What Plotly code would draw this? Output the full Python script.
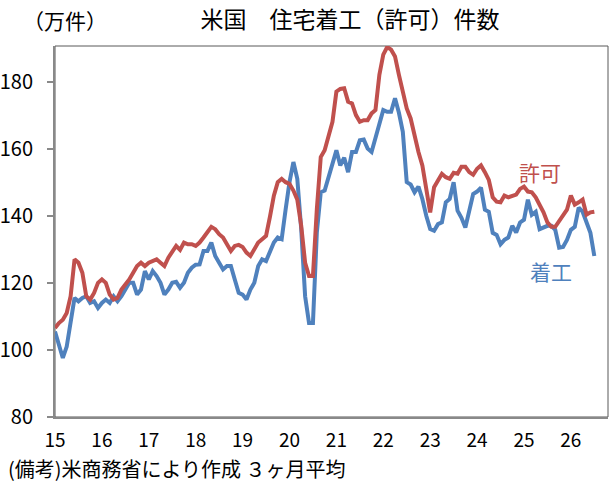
import plotly.graph_objects as go

# 3ヶ月平均（万件）, 2015年1月から月次
permits = [
    106.5, 108, 109, 111, 116, 127, 126, 123, 116, 115, 117, 120,
    121, 120, 116.5, 115, 115.5, 118, 119.5, 121, 123, 125, 126, 125,
    126, 126.5, 127, 126, 125, 127.5, 129.5, 131, 129.8, 132, 131.5, 131.5,
    131, 132, 133.5, 135, 136.7, 136, 134.5, 133.5, 131.5, 129.5, 131, 131.3,
    130.7, 129, 128, 130, 132, 133, 134, 139.7, 146, 150, 151, 150,
    149.5, 147.5, 144.8, 137, 126, 122, 122, 142, 157.5, 159.5, 164, 168,
    177, 177.8, 178, 174, 173.5, 170, 168, 168.5, 168.5, 170.5, 171.5, 182,
    188, 190.3, 189.5, 187.5, 182, 177, 172, 169, 163.5, 159, 155, 147,
    141, 148.5, 150.5, 152.5, 151.5, 151, 152.8, 152.5, 154.6, 154.6, 153, 152.2,
    154, 155, 153, 150.7, 145.5, 144.2, 144, 146, 145.5, 146, 146.3, 148,
    148.7, 147.2, 147, 145.5, 143.5, 141, 138, 136.7, 136.7, 138.5, 140.5, 141.8,
    146, 143.3, 144, 144.8, 140.3, 141, 141.2,
]

starts = [
    105.5, 101, 97.6, 101, 108, 115.5, 114.5, 115.5, 116, 114, 114.5, 112.5,
    114, 115, 114, 116, 114.5, 116, 118, 120, 120, 116.5, 118, 123.5,
    121, 123.5, 122, 120, 116.5, 118, 120, 120.3, 118.5, 120, 123, 124.5,
    125.4, 125.5, 129.5, 129.5, 132, 128, 126, 124, 125, 125, 121, 117,
    116.5, 115, 118, 120, 125, 127, 126.5, 129, 132, 133.5, 133, 141.8,
    150, 156, 151, 136, 116, 108, 108, 135, 147, 147.5, 151.5, 156.5,
    159.5, 155, 157.3, 153, 159, 159, 162.5, 162.7, 160, 159, 163.5, 168,
    171.5, 171, 171, 175, 170.7, 165, 150, 149.3, 147, 148.7, 145, 140,
    136, 135.5, 137.5, 138, 144, 145, 150, 141.5, 139.4, 136.5, 141, 146.5,
    147.2, 148.4, 141.8, 141.2, 134.9, 134.3, 131.5, 132.8, 133.5, 137, 135, 138,
    138.8, 144.8, 140.3, 141.2, 136, 136.5, 137, 137, 135.8, 130.5, 130.7, 132.8,
    135.8, 136.7, 142.4, 141.2, 137.9, 134.9, 128,
]

year_labels = ["15", "16", "17", "18", "19", "20", "21", "22", "23", "24", "25", "26"]
y_ticks = [80, 100, 120, 140, 160, 180]

months = list(range(len(permits)))
year_ticks = [12 * i for i in range(len(year_labels))]

RED = "#C0504D"
BLUE = "#4F81BD"
FONT = "Noto Sans CJK JP"

fig = go.Figure()

fig.add_trace(go.Scatter(
    x=months, y=starts, mode="lines", name="着工",
    line=dict(color=BLUE, width=4)
))
fig.add_trace(go.Scatter(
    x=months, y=permits, mode="lines", name="許可",
    line=dict(color=RED, width=4)
))

# 系列名（グラフ内の文字）
fig.add_annotation(x=124, y=153, text="許可", showarrow=False,
                   font=dict(family=FONT, size=21, color=RED))
fig.add_annotation(x=127, y=123.5, text="着工", showarrow=False,
                   font=dict(family=FONT, size=21, color=BLUE))

fig.add_annotation(xref="paper", yref="paper", x=-0.062, y=1.0, yshift=26,
                   text="（万件）", showarrow=False, yanchor="middle",
                   font=dict(family=FONT, size=21, color="black"))
fig.add_annotation(xref="paper", yref="paper", x=-0.088, y=0, yshift=-51,
                   xanchor="left", yanchor="middle",
                   text="(備考)米商務省により作成 ３ヶ月平均", showarrow=False,
                   font=dict(family=FONT, size=20, color="black"))

# プロット枠
fig.add_shape(type="rect", xref="paper", yref="paper", x0=0, y0=0, x1=1, y1=1,
              line=dict(color="#595959", width=1), layer="below")

fig.update_layout(
    title=dict(text="米国　住宅着工（許可）件数", x=0.569, xanchor="center",
               y=0.958, yanchor="middle",
               font=dict(family=FONT, size=23, color="black")),
    width=615, height=482,
    margin=dict(l=55, r=7, t=46, b=65),
    paper_bgcolor="white", plot_bgcolor="white",
    showlegend=False,
    font=dict(family=FONT, color="black"),
)

fig.update_xaxes(
    range=[0, 141.5], tickvals=year_ticks, ticktext=year_labels,
    showgrid=False, zeroline=False, automargin=False,
    showline=True, linecolor="#898989", linewidth=2,
    ticks="outside", ticklen=0, ticklabelstandoff=5,
    tickfont=dict(family=FONT, size=19, color="black"),
)
fig.update_yaxes(
    range=[80, 190.6], tickvals=y_ticks,
    showgrid=False, zeroline=False, automargin=False,
    showline=True, linecolor="#898989", linewidth=2,
    ticks="outside", ticklen=6, tickcolor="#898989", tickwidth=1.5,
    ticklabelstandoff=10,
    tickfont=dict(family=FONT, size=20, color="black"),
)

fig.write_html("out.html", config={"displayModeBar": False},
               post_script="document.body.style.margin = '0';")
